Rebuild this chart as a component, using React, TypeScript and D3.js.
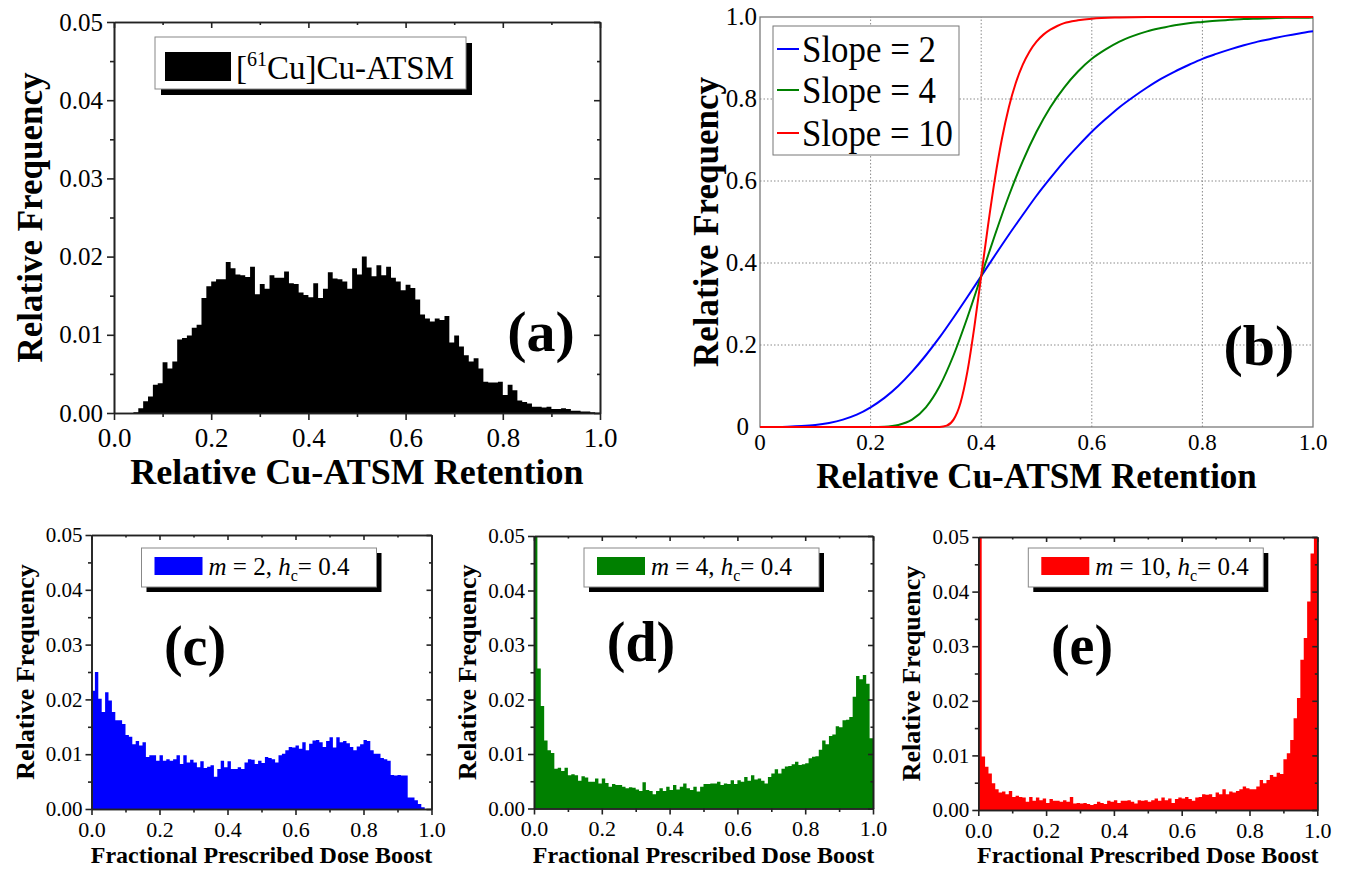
import React, { useEffect, useRef } from "react";
import * as d3 from "d3";

const W = 1351;
const H = 869;
const serif = "'Liberation Serif', 'Times New Roman', serif";

// (a) [61Cu]Cu-ATSM retention histogram, 100 bins of width 0.01
const atsmFreq = [
  0, 0, 0, 0, 0.0001, 0.0006, 0.0015, 0.0021, 0.0036, 0.0038,
  0.0065, 0.0057, 0.0066, 0.0094, 0.0096, 0.0099, 0.0109, 0.0113, 0.0147, 0.0162,
  0.0168, 0.0171, 0.0171, 0.0193, 0.0185, 0.0177, 0.0176, 0.0174, 0.0187, 0.0152,
  0.0165, 0.0159, 0.0176, 0.0173, 0.0173, 0.0181, 0.0166, 0.0165, 0.0154, 0.0151,
  0.0148, 0.0166, 0.0147, 0.0159, 0.018, 0.0172, 0.0171, 0.0168, 0.0159, 0.0185,
  0.0177, 0.02, 0.0186, 0.0175, 0.0189, 0.0176, 0.0187, 0.0173, 0.0168, 0.0157,
  0.0164, 0.016, 0.0145, 0.0126, 0.0121, 0.0117, 0.0121, 0.0119, 0.0124, 0.009,
  0.0099, 0.0085, 0.0074, 0.0066, 0.007, 0.0057, 0.004, 0.0039, 0.0039, 0.004,
  0.0023, 0.0036, 0.0029, 0.0016, 0.0014, 0.0012, 0.0008, 0.0008, 0.0007, 0.0008,
  0.0005, 0.0005, 0.0006, 0.0005, 0.0003, 0.0003, 0.0002, 0.0002, 0.0001, 0,
];

// (c) m = 2
const boostM2 = [
  0.0216, 0.025, 0.0201, 0.0177, 0.0213, 0.0198, 0.0177, 0.0162, 0.0162, 0.0155,
  0.0135, 0.0132, 0.0118, 0.0124, 0.0116, 0.0122, 0.0095, 0.0098, 0.0098, 0.0088,
  0.0098, 0.0088, 0.0091, 0.0088, 0.0091, 0.0098, 0.0082, 0.0098, 0.0085, 0.009,
  0.0085, 0.0076, 0.0087, 0.0075, 0.0077, 0.008, 0.0059, 0.0073, 0.0088, 0.0076,
  0.0087, 0.0073, 0.0073, 0.0076, 0.0073, 0.0085, 0.0091, 0.009, 0.0082, 0.0088,
  0.0084, 0.0095, 0.0093, 0.0091, 0.0085, 0.0098, 0.0101, 0.0107, 0.0113, 0.0112,
  0.0116, 0.011, 0.0122, 0.0107, 0.0119, 0.0125, 0.0126, 0.0122, 0.0113, 0.0124,
  0.0131, 0.0112, 0.0131, 0.0122, 0.0124, 0.012, 0.0113, 0.0107, 0.0114, 0.0118,
  0.0126, 0.0124, 0.0107, 0.0101, 0.0101, 0.0093, 0.0091, 0.0088, 0.0062, 0.0061,
  0.0062, 0.0061, 0.0061, 0.0021, 0.0021, 0.0016, 0.0009, 0.0003, 0, 0,
];

// (d) m = 4
const boostM4 = [
  0.065, 0.0257, 0.0188, 0.0125, 0.0107, 0.0102, 0.0073, 0.0075, 0.0069, 0.0075,
  0.0061, 0.0063, 0.0061, 0.0051, 0.0059, 0.0057, 0.0049, 0.0049, 0.0055, 0.0046,
  0.0055, 0.0047, 0.004, 0.0045, 0.0043, 0.0043, 0.004, 0.0037, 0.0039, 0.0038,
  0.0035, 0.0032, 0.0048, 0.0034, 0.0032, 0.0026, 0.0032, 0.0037, 0.0032, 0.004,
  0.0034, 0.0043, 0.0035, 0.004, 0.0046, 0.0037, 0.0034, 0.004, 0.0031, 0.004,
  0.0045, 0.0045, 0.0046, 0.0046, 0.0049, 0.0043, 0.0046, 0.0045, 0.0052, 0.0045,
  0.0052, 0.0049, 0.0058, 0.0051, 0.0061, 0.0053, 0.0055, 0.0051, 0.0046, 0.0058,
  0.0064, 0.0072, 0.0064, 0.0073, 0.0077, 0.0078, 0.0081, 0.0086, 0.008, 0.0081,
  0.0083, 0.0092, 0.0095, 0.0096, 0.0108, 0.0125, 0.0118, 0.0133, 0.0136, 0.0151,
  0.0149, 0.0162, 0.0163, 0.0168, 0.0205, 0.0243, 0.0237, 0.0245, 0.0229, 0.0129,
];

// (e) m = 10
const boostM10 = [
  0.06, 0.0098, 0.0079, 0.0067, 0.0049, 0.0038, 0.0032, 0.0034, 0.0029, 0.0035,
  0.0024, 0.0026, 0.0024, 0.0023, 0.0015, 0.0024, 0.0017, 0.0023, 0.0018, 0.0021,
  0.0013, 0.002, 0.0017, 0.0017, 0.0015, 0.0018, 0.0015, 0.0024, 0.0012, 0.0013,
  0.0012, 0.0013, 0.0011, 0.0009, 0.0011, 0.0015, 0.0013, 0.0011, 0.0017, 0.0015,
  0.0018, 0.0013, 0.0017, 0.0017, 0.0018, 0.0015, 0.0012, 0.0018, 0.0017, 0.0018,
  0.0015, 0.0018, 0.0021, 0.0017, 0.0023, 0.0018, 0.0021, 0.0013, 0.002, 0.0023,
  0.0021, 0.0024, 0.002, 0.0017, 0.0023, 0.0024, 0.0029, 0.0028, 0.0029, 0.0024,
  0.0032, 0.0029, 0.0038, 0.0029, 0.0034, 0.0032, 0.0035, 0.0038, 0.0043, 0.004,
  0.0038, 0.0038, 0.0043, 0.0055, 0.0049, 0.0055, 0.0064, 0.0061, 0.0068, 0.0066,
  0.0093, 0.0104, 0.0128, 0.0168, 0.0205, 0.0275, 0.0315, 0.0382, 0.047, 0.06,
];

// (b) dose-response curves
const curveX = [
  0, 0.025, 0.05, 0.075, 0.1, 0.125, 0.15, 0.175, 0.2, 0.225, 0.25, 0.275, 0.3, 0.325,
  0.35, 0.375, 0.4, 0.425, 0.45, 0.475, 0.5, 0.525, 0.55, 0.575, 0.6, 0.625, 0.65,
  0.675, 0.7, 0.725, 0.75, 0.775, 0.8, 0.825, 0.85, 0.875, 0.9, 0.925, 0.95, 0.975, 1,
];
const slope2 = [
  0.0001, 0.0003, 0.0009, 0.0023, 0.005, 0.01, 0.018, 0.03, 0.048, 0.071, 0.1, 0.135,
  0.175, 0.219, 0.267, 0.317, 0.368, 0.419, 0.469, 0.517, 0.564, 0.607, 0.648, 0.685,
  0.72, 0.751, 0.78, 0.805, 0.828, 0.849, 0.867, 0.883, 0.898, 0.91, 0.921, 0.931,
  0.94, 0.947, 0.954, 0.96, 0.965,
];
const slope4 = [
  0, 0, 0, 0, 0, 0, 0, 0, 0.0001, 0.0009, 0.005, 0.018, 0.048, 0.1, 0.175, 0.267,
  0.368, 0.469, 0.564, 0.648, 0.72, 0.78, 0.828, 0.867, 0.898, 0.921, 0.94, 0.954,
  0.965, 0.973, 0.98, 0.985, 0.988, 0.991, 0.993, 0.995, 0.996, 0.997, 0.998, 0.998, 0.999,
];
const slope10X = [
  0, 0.1, 0.2, 0.3, 0.3125, 0.325, 0.3375, 0.35, 0.3625, 0.375, 0.3875, 0.4, 0.4125,
  0.425, 0.4375, 0.45, 0.4625, 0.475, 0.4875, 0.5, 0.5125, 0.525, 0.5375, 0.55, 0.575,
  0.6, 0.65, 0.7, 0.8, 0.9, 1,
];
const slope10 = [
  0, 0, 0, 0, 0.0001, 0.0003, 0.0034, 0.018, 0.0587, 0.135, 0.243, 0.368, 0.493, 0.607,
  0.703, 0.78, 0.839, 0.883, 0.916, 0.94, 0.957, 0.969, 0.978, 0.985, 0.992, 0.996,
  0.999, 1, 1, 1, 1,
];

const slopeNames = ["Slope = 2", "Slope = 4", "Slope = 10"];
const slopeColors = ["#0000ff", "#008000", "#ff0000"];
const mValues = ["2", "4", "10"];

const histXTicks = [0, 0.2, 0.4, 0.6, 0.8, 1];
const histXMinor = [0.1, 0.3, 0.5, 0.7, 0.9];
const histYTicks = [0, 0.01, 0.02, 0.03, 0.04, 0.05];
const histYMinor = [0.005, 0.015, 0.025, 0.035, 0.045];
const gridTicks = [0.2, 0.4, 0.6, 0.8];
const curveTicks = [0, 0.2, 0.4, 0.6, 0.8, 1];

function styleAxis(g: any, size: number) {
  g.selectAll("path, line").attr("stroke", "#222").attr("stroke-width", 1.6);
  g.selectAll("text").attr("font-family", serif).attr("font-size", size).attr("fill", "#000");
}

function drawHist(svg: any, p: any) {
  const x = d3.scaleLinear().domain([0, 1]).range([p.l, p.r]);
  const y = d3.scaleLinear().domain([0, 0.05]).range([p.b, p.t]).clamp(true);

  const pts = p.data.map((v: number, i: number) => ({ x0: i / 100, v }));
  pts.push({ x0: 1, v: p.data[p.data.length - 1] });
  const area = d3
    .area<any>()
    .x((d) => x(d.x0))
    .y0(y(0))
    .y1((d) => y(d.v))
    .curve(d3.curveStepAfter);
  svg.append("path").attr("d", area(pts)).attr("fill", p.color);

  const add = (axis: any, tx: number, ty: number, fs: number) => {
    const g = svg.append("g").attr("transform", `translate(${tx},${ty})`).call(axis);
    styleAxis(g, fs);
    return g;
  };
  const none = () => "";
  // bottom (outward) + top (inward)
  add(d3.axisBottom(x).tickValues(histXTicks).tickFormat(d3.format(".1f")).tickSize(p.major).tickSizeOuter(0).tickPadding(p.xPad), 0, p.b, p.xFont);
  add(d3.axisBottom(x).tickValues(histXMinor).tickFormat(none).tickSize(p.minor).tickSizeOuter(0), 0, p.b, p.xFont);
  add(d3.axisBottom(x).tickValues(histXTicks).tickFormat(none).tickSize(p.major - 1).tickSizeOuter(0), 0, p.t, p.xFont);
  add(d3.axisBottom(x).tickValues(histXMinor).tickFormat(none).tickSize(p.minor - 1).tickSizeOuter(0), 0, p.t, p.xFont);
  // left (outward) + right (inward)
  add(d3.axisLeft(y).tickValues(histYTicks).tickFormat(d3.format(".2f")).tickSize(p.major).tickSizeOuter(0).tickPadding(p.yPad), p.l, 0, p.yFont);
  add(d3.axisLeft(y).tickValues(histYMinor).tickFormat(none).tickSize(p.minor).tickSizeOuter(0), p.l, 0, p.yFont);
  add(d3.axisLeft(y).tickValues(histYTicks).tickFormat(none).tickSize(p.major - 1).tickSizeOuter(0), p.r, 0, p.yFont);
  add(d3.axisLeft(y).tickValues(histYMinor).tickFormat(none).tickSize(p.minor - 1).tickSizeOuter(0), p.r, 0, p.yFont);

  // axis titles
  svg.append("text")
    .attr("transform", `translate(${p.yTitleX},${(p.t + p.b) / 2}) rotate(-90)`)
    .attr("text-anchor", "middle").attr("dy", "0.35em")
    .attr("font-family", serif).attr("font-weight", "bold").attr("font-size", p.yTitleFont)
    .text("Relative Frequency");
  svg.append("text")
    .attr("x", (p.l + p.r) / 2).attr("y", p.xTitleY)
    .attr("text-anchor", "middle")
    .attr("font-family", serif).attr("font-weight", "bold").attr("font-size", p.xTitleFont)
    .text(p.xTitle);

  // legend with drop shadow
  const lg = p.legend;
  svg.append("rect").attr("x", lg.x + lg.sh).attr("y", lg.y + lg.sh).attr("width", lg.w).attr("height", lg.h).attr("fill", "#000");
  svg.append("rect").attr("x", lg.x).attr("y", lg.y).attr("width", lg.w).attr("height", lg.h).attr("fill", "#fff").attr("stroke", "#888").attr("stroke-width", 1);
  svg.append("rect").attr("x", lg.sx).attr("y", lg.sy).attr("width", lg.sw).attr("height", lg.shh).attr("fill", p.color);
  const t = svg.append("text").attr("x", lg.tx).attr("y", lg.ty).attr("font-family", serif).attr("font-size", lg.fs);
  lg.render(t);

  // panel letter
  svg.append("text")
    .attr("x", p.letterX).attr("y", p.letterY).attr("text-anchor", "middle")
    .attr("font-family", serif).attr("font-weight", "bold").attr("font-size", p.letterFont)
    .text(p.letter);
}

function drawCurves(svg: any) {
  const l = 760, r = 1313, t = 17, b = 427;
  const x = d3.scaleLinear().domain([0, 1]).range([l, r]);
  const y = d3.scaleLinear().domain([0, 1]).range([b, t]);

  gridTicks.forEach((v) => {
    svg.append("line").attr("x1", x(v)).attr("x2", x(v)).attr("y1", y(0)).attr("y2", y(1))
      .attr("stroke", "#8a8a8a").attr("stroke-width", 1).attr("stroke-dasharray", "1.5,2");
    svg.append("line").attr("x1", x(0)).attr("x2", x(1)).attr("y1", y(v)).attr("y2", y(v))
      .attr("stroke", "#8a8a8a").attr("stroke-width", 1).attr("stroke-dasharray", "1.5,2");
  });

  svg.append("rect").attr("x", l).attr("y", t).attr("width", r - l).attr("height", b - t)
    .attr("fill", "none").attr("stroke", "#7a7a7a").attr("stroke-width", 1.3);

  const fmt = (v: number) => (v === 0 ? "0" : v.toFixed(1));
  curveTicks.forEach((v) => {
    // the zero label on the y axis sits a little left of the x-axis zero
    svg.append("text").attr("x", v === 0 ? l - 11 : l - 3).attr("y", y(v)).attr("dy", "0.3em")
      .attr("text-anchor", "end").attr("font-family", serif).attr("font-size", 25).text(fmt(v));
    svg.append("text").attr("x", x(v)).attr("y", 450)
      .attr("text-anchor", "middle").attr("font-family", serif).attr("font-size", 23).text(fmt(v));
  });

  const series = [
    { xs: curveX, ys: slope2 },
    { xs: curveX, ys: slope4 },
    { xs: slope10X, ys: slope10 },
  ];
  const line = d3.line<[number, number]>().x((d) => x(d[0])).y((d) => y(d[1])).curve(d3.curveMonotoneX);
  series.forEach((s, i) => {
    const pts = s.xs.map((xv, j) => [xv, s.ys[j]] as [number, number]);
    svg.append("path").attr("d", line(pts)).attr("fill", "none")
      .attr("stroke", slopeColors[i]).attr("stroke-width", 2);
  });

  // legend
  svg.append("rect").attr("x", 773).attr("y", 26).attr("width", 186).attr("height", 129)
    .attr("fill", "#fff").attr("stroke", "#777").attr("stroke-width", 1);
  const rows = [49, 90, 133];
  slopeNames.forEach((name, i) => {
    svg.append("line").attr("x1", 777).attr("x2", 799).attr("y1", rows[i]).attr("y2", rows[i])
      .attr("stroke", slopeColors[i]).attr("stroke-width", 2);
    svg.append("text").attr("x", 802).attr("y", rows[i] + 13)
      .attr("font-family", serif).attr("font-size", 38)
      .attr("textLength", i === 2 ? 151 : 134).attr("lengthAdjust", "spacingAndGlyphs")
      .text(name);
  });

  svg.append("text").attr("transform", `translate(706,${(t + b) / 2}) rotate(-90)`)
    .attr("text-anchor", "middle").attr("dy", "0.35em")
    .attr("font-family", serif).attr("font-weight", "bold").attr("font-size", 35)
    .text("Relative Frequency");
  svg.append("text").attr("x", (l + r) / 2).attr("y", 488).attr("text-anchor", "middle")
    .attr("font-family", serif).attr("font-weight", "bold").attr("font-size", 35)
    .text("Relative Cu-ATSM Retention");

  svg.append("text").attr("x", 1259).attr("y", 365).attr("text-anchor", "middle")
    .attr("font-family", serif).attr("font-weight", "bold").attr("font-size", 58).text("(b)");
}

const App = () => {
  const svgRef = useRef<SVGSVGElement>(null);

  useEffect(() => {
    const svg = d3.select(svgRef.current);
    svg.selectAll("*").remove();
    svg.append("rect").attr("width", W).attr("height", H).attr("fill", "#fff");

    // (a)
    drawHist(svg, {
      data: atsmFreq, color: "#000",
      l: 114, r: 600, t: 22, b: 413,
      major: 7, minor: 4, xPad: 8, yPad: 4, xFont: 27, yFont: 25,
      yTitleX: 30, xTitleY: 484, yTitleFont: 35, xTitleFont: 36, xTitle: "Relative Cu-ATSM Retention",
      letter: "(a)", letterX: 541, letterY: 351, letterFont: 58,
      legend: {
        x: 155, y: 37, w: 311, h: 52, sh: 6,
        sx: 165, sy: 52, sw: 66, shh: 29,
        tx: 236, ty: 79, fs: 33,
        render: (t: any) => {
          t.append("tspan").text("[");
          t.append("tspan").attr("dy", -13).attr("font-size", 20).text("61");
          t.append("tspan").attr("dy", 13).text("Cu]Cu-ATSM");
        },
      },
    });

    drawCurves(svg);

    const bottom = [
      { data: boostM2, color: "#0000ff", l: 91.5, r: 431.5, t: 535, b: 809, letter: "(c)", lx: 195, ly: 665 },
      { data: boostM4, color: "#008000", l: 534, r: 873, t: 536, b: 808.5, letter: "(d)", lx: 641, ly: 661 },
      { data: boostM10, color: "#ff0000", l: 978.3, r: 1317.3, t: 537, b: 810, letter: "(e)", lx: 1082, ly: 664 },
    ];
    bottom.forEach((p, i) => {
      drawHist(svg, {
        data: p.data, color: p.color,
        l: p.l, r: p.r, t: p.t, b: p.b,
        major: 6, minor: 3.5, xPad: 6, yPad: 3, xFont: 22, yFont: 21,
        yTitleX: p.l - 67, xTitleY: 863, yTitleFont: 26, xTitleFont: 24, xTitle: "Fractional Prescribed Dose Boost",
        letter: p.letter, letterX: p.lx, letterY: p.ly, letterFont: 56,
        legend: {
          x: p.l + 50, y: 548, w: 235, h: 39, sh: 5,
          sx: p.l + 63, sy: 557, sw: 48, shh: 18,
          tx: p.l + 117, ty: 575, fs: 25,
          render: (t: any) => {
            t.append("tspan").attr("font-style", "italic").text("m");
            t.append("tspan").text(` = ${mValues[i]}, `);
            t.append("tspan").attr("font-style", "italic").text("h");
            t.append("tspan").attr("dy", 6).attr("font-size", 16).text("c");
            t.append("tspan").attr("dy", -6).text("= 0.4");
          },
        },
      });
    });
  }, []);

  return (
    <svg
      ref={svgRef}
      width={W}
      height={H}
      style={{ position: "absolute", left: 0, top: 0, display: "block" }}
    />
  );
};

export default App;
